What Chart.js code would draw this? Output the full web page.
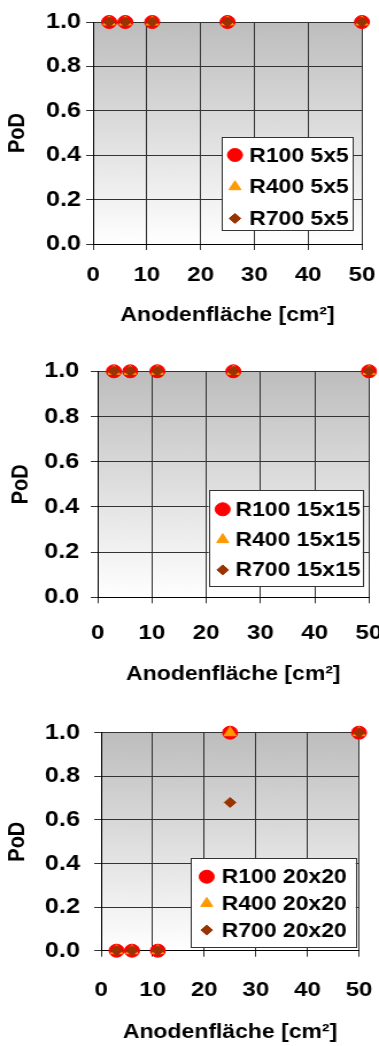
<!DOCTYPE html>
<html>
<head>
<meta charset="utf-8">
<script src="https://cdn.jsdelivr.net/npm/chart.js@4/dist/chart.umd.min.js"></script>
<style>
  html, body { margin: 0; padding: 0; background: #fff; }
  canvas { display: block; }
</style>
</head>
<body>
<canvas id="c1" width="330" height="340" style="width:379px;height:340px"></canvas>
<canvas id="c2" width="330" height="350" style="width:379px;height:350px"></canvas>
<canvas id="c3" width="330" height="356" style="width:379px;height:356px"></canvas>
<script>
// Daten
const flaechen = [3, 6, 11, 25, 50];
const serien = ["R100", "R400", "R700"];
const raster = ["5x5", "15x15", "20x20"];
const xTicks = [0, 10, 20, 30, 40, 50];
const yTicks = [0, 0.2, 0.4, 0.6, 0.8, 1.0];

const pod5_R100 = [1, 1, 1, 1, 1];
const pod5_R400 = [1, 1, 1, 1, 1];
const pod5_R700 = [1, 1, 1, 1, 1];
const pod15_R100 = [1, 1, 1, 1, 1];
const pod15_R400 = [1, 1, 1, 1, 1];
const pod15_R700 = [1, 1, 1, 1, 1];
const pod20_R100 = [0, 0, 0, 1, 1];
const pod20_R400 = [0, 0, 0, 1, 1];
const pod20_R700 = [0, 0, 0, 0.68, 1];

const werte = [
  [pod5_R100, pod5_R400, pod5_R700],
  [pod15_R100, pod15_R400, pod15_R700],
  [pod20_R100, pod20_R400, pod20_R700],
];

const farben = ["#ff0000", "#ff9900", "#993300"];
const symbole = ["circle", "triangle", "rectRot"];
const groessen = [6.5, 6, 5];

const schrift = "'Liberation Sans', Arial, sans-serif";

// Layout je Diagramm (interne Canvas-Pixel, Breite wird per CSS gestreckt)
const layouts = [
  { links: 81, rechts: 14.8, oben: 22, unten: 244, hoehe: 340, yPad: 4.4, yTitelPad: 3.9, xPad: 13.1, xTitelPad: 13,
    legende: { l: 193.3, t: 137, r: 307.4, b: 230, ersteZeile: 18, abstand: 31.7, markerX: 204.6, textX: 217 } },
  { links: 85, rechts: 8.7, oben: 31.3, unten: 257.3, hoehe: 350, yPad: 10, yTitelPad: 6, xPad: 17.5, xTitelPad: 4,
    legende: { l: 181.7, t: 150, r: 315.8, b: 246, ersteZeile: 19.3, abstand: 30.3, markerX: 193.9, textX: 205 } },
  { links: 88, rechts: 17.4, oben: 42.7, unten: 260.7, hoehe: 356, yPad: 12.3, yTitelPad: 3.2, xPad: 20.8, xTitelPad: 2,
    legende: { l: 166, t: 168, r: 309.7, b: 257, ersteZeile: 18.7, abstand: 26.7, markerX: 180, textX: 193 } },
];

const hintergrund = {
  id: "hintergrund",
  beforeDraw(chart) {
    const a = chart.chartArea;
    const ctx = chart.ctx;
    const g = ctx.createLinearGradient(0, a.top, 0, a.bottom);
    g.addColorStop(0, "#bdbdbd");
    g.addColorStop(1, "#ffffff");
    ctx.save();
    ctx.fillStyle = g;
    ctx.fillRect(a.left, a.top, a.right - a.left, a.bottom - a.top);
    ctx.restore();
  },
};

const legendeImDiagramm = {
  id: "legendeImDiagramm",
  afterDraw(chart, args, opts) {
    const ctx = chart.ctx;
    ctx.save();
    ctx.fillStyle = "#fff";
    ctx.fillRect(opts.l, opts.t, opts.r - opts.l, opts.b - opts.t);
    ctx.strokeStyle = "#333";
    ctx.lineWidth = 1;
    ctx.strokeRect(Math.round(opts.l) + 0.5, Math.round(opts.t) + 0.5, Math.round(opts.r - opts.l), Math.round(opts.b - opts.t));
    chart.data.datasets.forEach((ds, i) => {
      const y = opts.t + opts.ersteZeile + i * opts.abstand;
      ctx.fillStyle = ds.backgroundColor;
      ctx.strokeStyle = ds.borderColor;
      Chart.helpers.drawPoint(ctx, { pointStyle: ds.pointStyle, radius: ds.pointRadius, borderWidth: 1, rotation: 0 }, opts.markerX, y);
      ctx.fillStyle = "#000";
      ctx.font = "bold 20px " + schrift;
      ctx.textAlign = "left";
      ctx.textBaseline = "middle";
      ctx.fillText(ds.label, opts.textX, y + 1);
    });
    ctx.restore();
  },
};

function machDiagramm(id, nr) {
  const lay = layouts[nr];
  const datasets = [];
  for (let i = 0; i < serien.length; i++) {
    datasets.push({
      label: serien[i] + " " + raster[nr],
      data: flaechen.map((x, j) => ({ x: x, y: werte[nr][i][j] })),
      backgroundColor: farben[i],
      borderColor: farben[i],
      borderWidth: 1,
      pointStyle: symbole[i],
      pointRadius: groessen[i],
      order: 3 - i,
      clip: false,
    });
  }

  new Chart(document.getElementById(id), {
    type: "scatter",
    data: { datasets: datasets },
    plugins: [hintergrund, legendeImDiagramm],
    options: {
      responsive: false,
      animation: false,
      devicePixelRatio: 1,
      layout: { padding: { left: 0, top: lay.oben, right: lay.rechts, bottom: 0 } },
      plugins: {
        legend: { display: false },
        tooltip: { enabled: false },
        legendeImDiagramm: lay.legende,
      },
      scales: {
        x: {
          type: "linear",
          min: 0,
          max: 50,
          afterBuildTicks: (s) => { s.ticks = xTicks.map((v) => ({ value: v })); },
          afterFit: (s) => {
            s.height = lay.hoehe - lay.unten;
            s.paddingLeft = 0;
            s.paddingRight = 0;
          },
          ticks: {
            color: "#000",
            padding: lay.xPad,
            font: { family: schrift, size: 21, weight: "bold" },
            maxRotation: 0,
          },
          grid: { color: "#333", tickLength: 6, lineWidth: 1 },
          border: { color: "#000", width: 1 },
          title: {
            display: true,
            text: "Anodenfläche [cm²]",
            color: "#000",
            font: { family: schrift, size: 20, weight: "bold" },
            padding: { top: 0, bottom: lay.xTitelPad },
          },
        },
        y: {
          type: "linear",
          min: 0,
          max: 1,
          afterBuildTicks: (s) => { s.ticks = yTicks.map((v) => ({ value: v })); },
          afterFit: (s) => {
            s.width = lay.links;
            s.paddingTop = 0;
            s.paddingBottom = 0;
          },
          ticks: {
            color: "#000",
            padding: lay.yPad,
            font: { family: schrift, size: 22, weight: "bold" },
            callback: (v) => Number(v).toFixed(1),
          },
          grid: { color: "#333", tickLength: 6, lineWidth: 1 },
          border: { color: "#000", width: 1 },
          title: {
            display: true,
            text: "PoD",
            color: "#000",
            font: { family: schrift, size: 20, weight: "bold" },
            padding: { top: lay.yTitelPad, bottom: 0 },
          },
        },
      },
    },
  });
}

machDiagramm("c1", 0);
machDiagramm("c2", 1);
machDiagramm("c3", 2);
</script>
</body>
</html>
